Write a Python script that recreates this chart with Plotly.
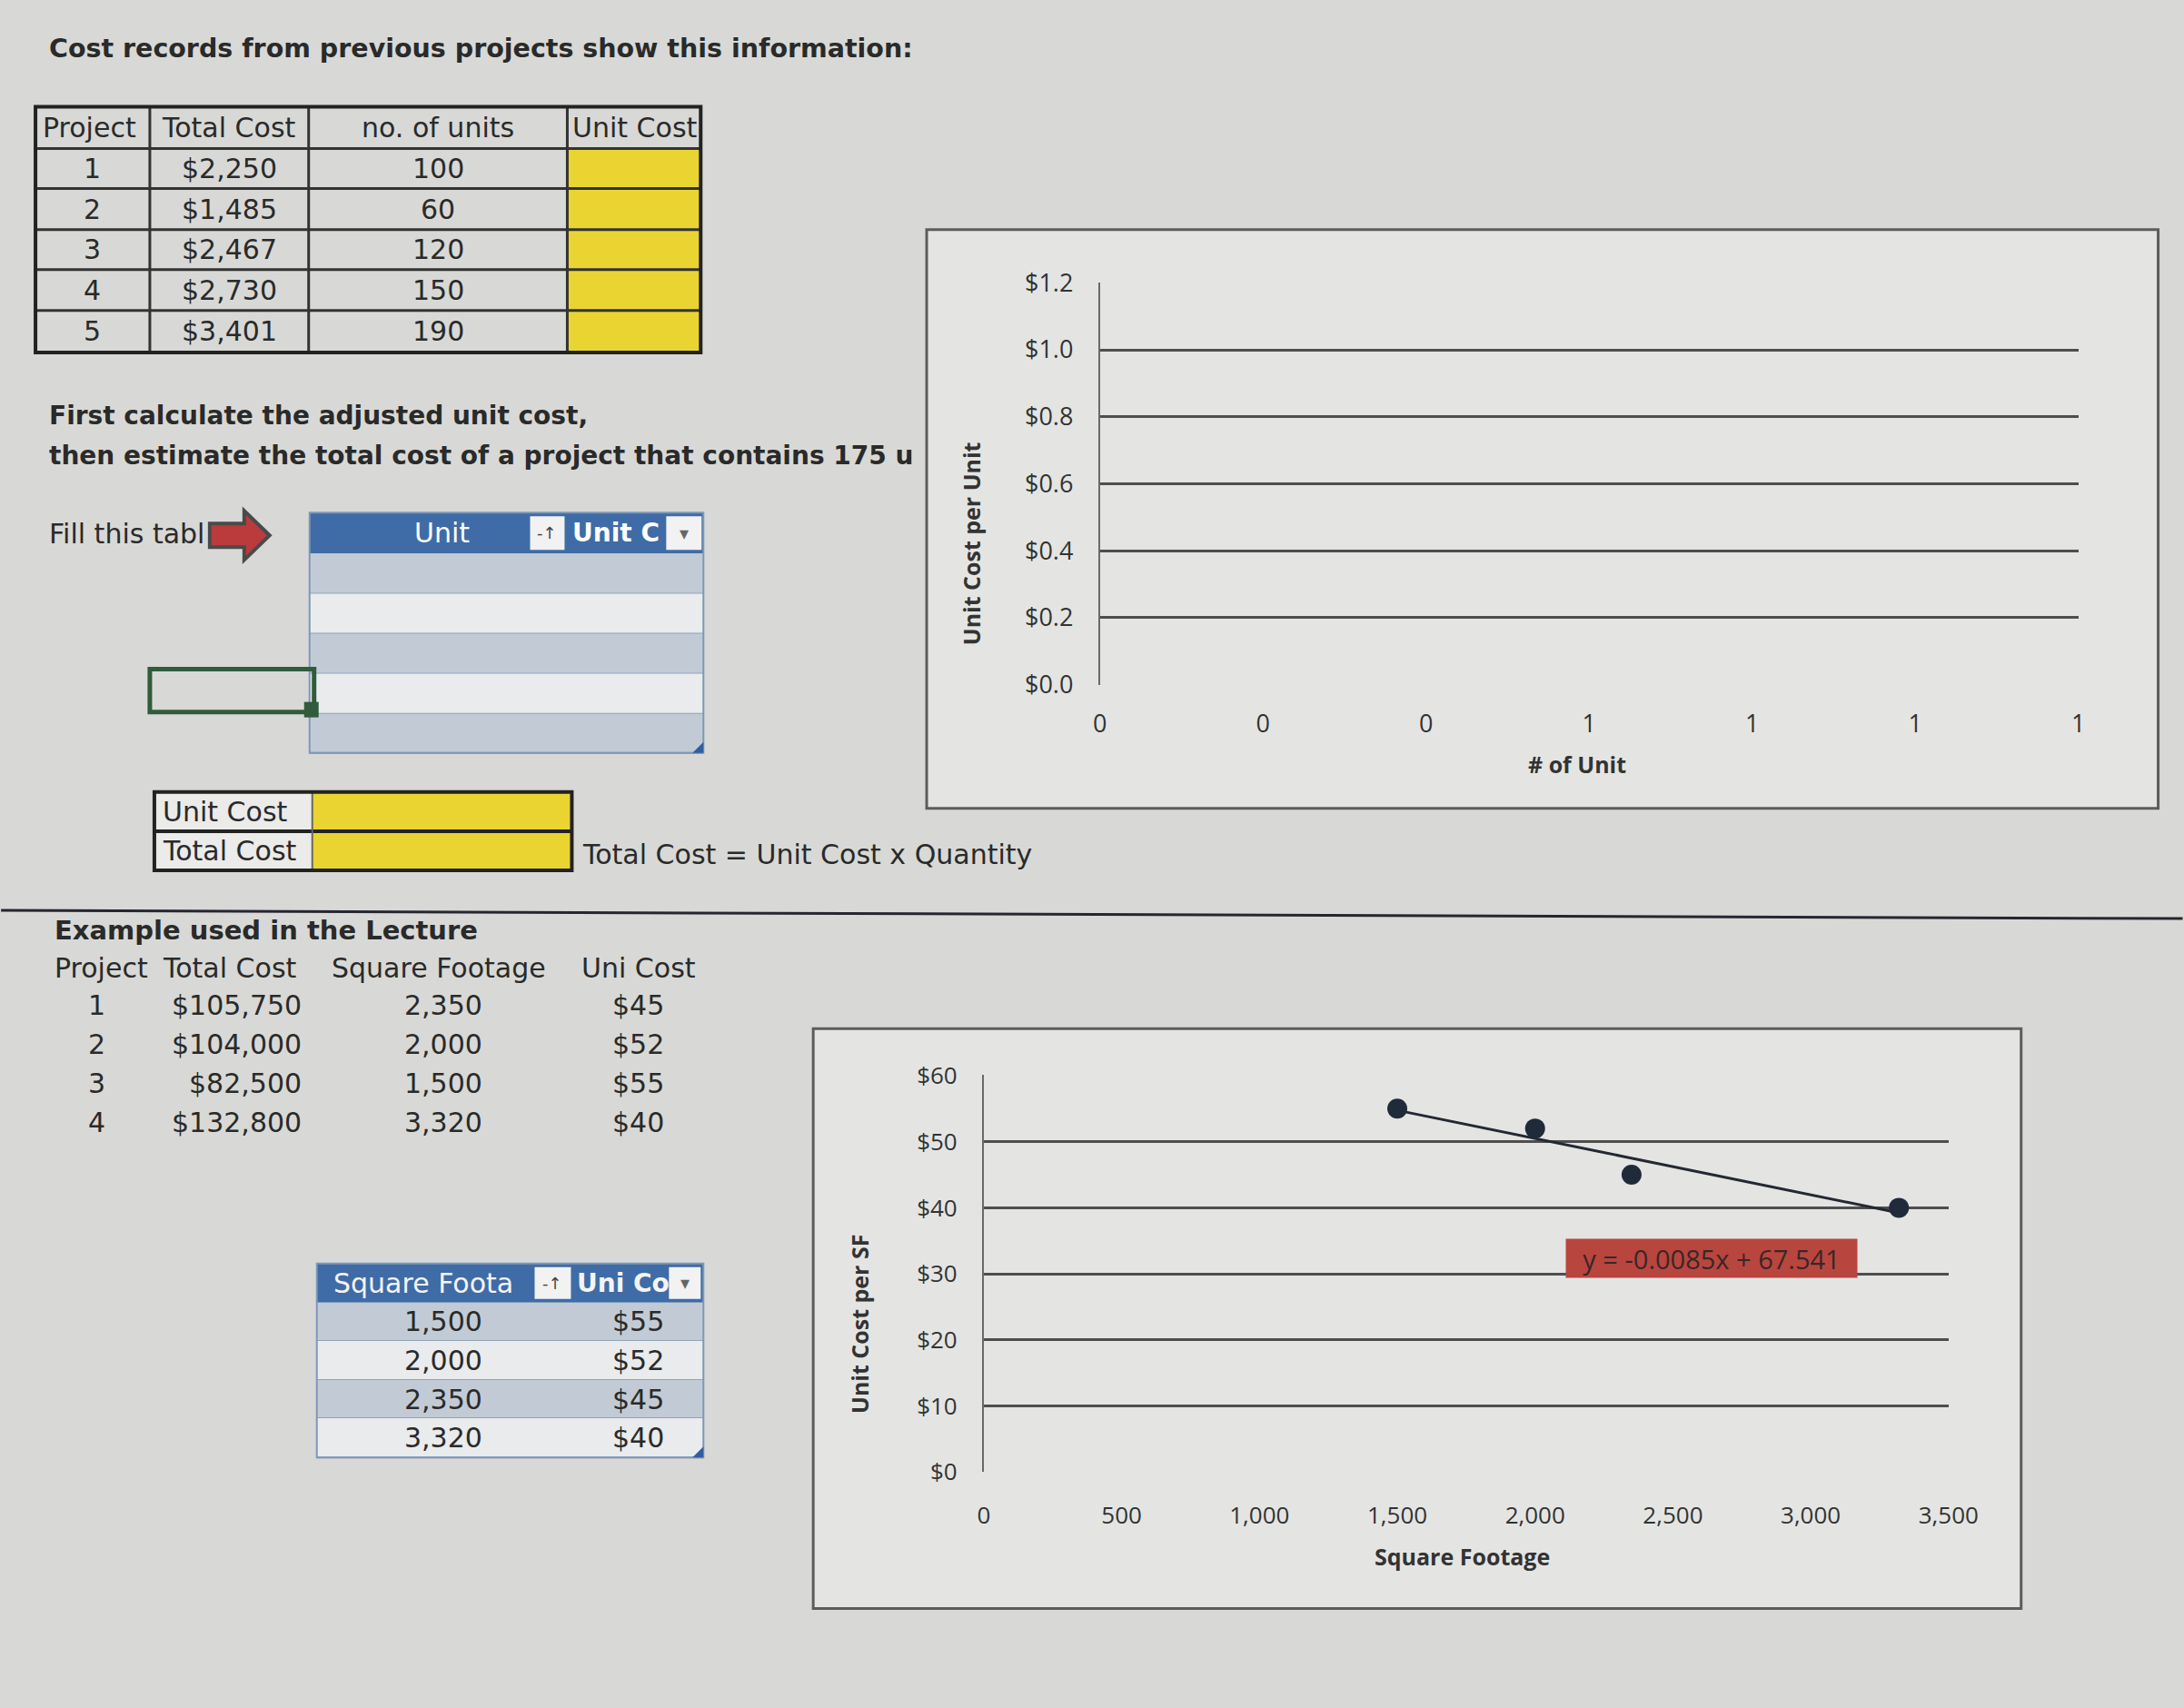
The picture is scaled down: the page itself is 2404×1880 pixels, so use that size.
import numpy as np
import plotly.graph_objects as go

W, H = 2404, 1880

# ---------------- data ----------------
proj_ids = [1, 2, 3, 4, 5]
proj_total_cost = [2250, 1485, 2467, 2730, 3401]
proj_units = [100, 60, 120, 150, 190]
table1_headers = ["Project", "Total Cost", "no. of units", "Unit Cost"]

lec_ids = [1, 2, 3, 4]
lec_total_cost = [105750, 104000, 82500, 132800]
lec_sqft = [2350, 2000, 1500, 3320]
lec_unit_cost = [45, 52, 55, 40]
lec_headers = ["Project", "Total Cost", "Square Footage", "Uni Cost"]

fill_headers = ["Unit", "Unit C"]
sorted_headers = ["Square Foota", "Uni Co"]
summary_labels = ["Unit Cost", "Total Cost"]

title_text = "Cost records from previous projects show this information:"
instr_lines = ["First calculate the adjusted unit cost,",
               "then estimate the total cost of a project that contains 175 u"]
fill_text = "Fill this tabl"
formula_text = "Total Cost = Unit Cost x Quantity"
lecture_title = "Example used in the Lecture"

chart1_ytitle, chart1_xtitle = "Unit Cost per Unit", "# of Unit"
chart2_ytitle, chart2_xtitle = "Unit Cost per SF", "Square Footage"

# ---------------- style ----------------
PAGE_BG = "#d8d9d6"
FRAME_FILL = "#e4e5e3"
FRAME_LINE = "#5c5c5c"
TXT = "#2a2a2a"
YELLOW = "#ead431"
BLUE = "#3f6ca6"
BAND = "#c2cbd5"
WROW = "#e9ebed"
GRID = "#4e4e4e"
CELL_FONT = "DejaVu Sans"
CHART_FONT = "Open Sans"

# placement calibration (page pixel -> layout pixel)
SX, AX = 0.984, 6.9
SY, AY = 0.979, 19.8


def X(p):
    return ((p - AX) / SX) / W


def Y(p):
    return 1 - ((p - AY) / SY) / H


shapes = []
annos = []


def rect(x0, y0, x1, y1, fill=None, lc=None, lw=0):
    shapes.append(dict(type="rect", xref="paper", yref="paper",
                       x0=X(x0), x1=X(x1), y0=Y(y1), y1=Y(y0),
                       fillcolor=fill if fill else "rgba(0,0,0,0)",
                       line=dict(color=lc if lc else "rgba(0,0,0,0)", width=lw),
                       layer="below"))


def line(x0, y0, x1, y1, c, w):
    shapes.append(dict(type="line", xref="paper", yref="paper",
                       x0=X(x0), x1=X(x1), y0=Y(y0), y1=Y(y1),
                       line=dict(color=c, width=w), layer="below"))


def text(x, y, s, size=30, bold=False, anchor="left", color=TXT, font=CELL_FONT):
    annos.append(dict(xref="paper", yref="paper", x=X(x), y=Y(y),
                      text=f"<b>{s}</b>" if bold else s, showarrow=False,
                      xanchor=anchor, yanchor="middle",
                      font=dict(family=font, size=size, color=color)))


# ---------------- top text & table 1 ----------------
text(51, 54, title_text, size=28.5, bold=True)

cols1 = [38, 164, 339, 624, 771]
rows1 = [118, 164, 208, 253, 297, 342, 388]
for i in range(len(proj_ids)):
    rect(cols1[3], rows1[i + 1], cols1[4], rows1[i + 2], fill=YELLOW)
for cx in cols1[1:-1]:
    line(cx, rows1[0], cx, rows1[-1], "#333", 3)
for ry in rows1[1:-1]:
    line(cols1[0], ry, cols1[4], ry, "#333", 3)
rect(cols1[0], rows1[0], cols1[4], rows1[-1], lc="#222", lw=4)

hx = [(cols1[0] + 6, "left"), ((cols1[1] + cols1[2]) / 2, "center"),
      ((cols1[2] + cols1[3]) / 2, "center"), (cols1[3] + 4, "left")]
for (x, a), h in zip(hx, table1_headers):
    text(x, (rows1[0] + rows1[1]) / 2, h, anchor=a)
for i, (p, tc, u) in enumerate(zip(proj_ids, proj_total_cost, proj_units)):
    yc = (rows1[i + 1] + rows1[i + 2]) / 2
    text((cols1[0] + cols1[1]) / 2, yc, str(p), anchor="center")
    text((cols1[1] + cols1[2]) / 2, yc, f"${tc:,}", anchor="center")
    text((cols1[2] + cols1[3]) / 2, yc, f"{u}", anchor="center")

# ---------------- instructions ----------------
text(51, 457, instr_lines[0], size=28, bold=True)
text(51, 501, instr_lines[1], size=28, bold=True)
text(51, 587, fill_text, size=30)

# arrow
ax0, ax1, ax2 = 230, 268, 296
path = (f"M {X(ax0)},{Y(576)} L {X(ax1)},{Y(576)} L {X(ax1)},{Y(562)} "
        f"L {X(ax2)},{Y(589)} L {X(ax1)},{Y(616)} L {X(ax1)},{Y(602)} "
        f"L {X(ax0)},{Y(602)} Z")
shapes.append(dict(type="path", xref="paper", yref="paper", path=path,
                   fillcolor="#bb3b3d", line=dict(color="#4a4a4a", width=4),
                   layer="below"))


# ---------------- excel-style tables ----------------
def excel_table(x0, x1, ys, btn1, btn2):
    rect(x0, ys[0], x1, ys[1], fill=BLUE)
    for i in range(len(ys) - 2):
        fill = BAND if i % 2 == 0 else WROW
        rect(x0, ys[i + 1], x1, ys[i + 2], fill=fill)
        line(x0, ys[i + 2], x1, ys[i + 2], "#8ea3bb", 2)
    rect(x0, ys[0], x1, ys[-1], lc="#7d98b8", lw=2)
    hy = (ys[0] + ys[1]) / 2
    rect(btn1[0], ys[0] + 4, btn1[1], ys[1] - 4, fill="#f2f2f2")
    text((btn1[0] + btn1[1]) / 2, hy, "-↑", size=18, anchor="center", color="#444")
    rect(btn2[0], ys[0] + 4, btn2[1], ys[1] - 4, fill="#f2f2f2")
    text((btn2[0] + btn2[1]) / 2, hy, "▾", size=20, anchor="center", color="#666")
    shapes.append(dict(type="path", xref="paper", yref="paper",
                       path=f"M {X(x1)},{Y(ys[-1] - 12)} L {X(x1)},{Y(ys[-1])} L {X(x1 - 12)},{Y(ys[-1])} Z",
                       fillcolor="#2f5f9f", line=dict(width=0), layer="below"))
    return hy


ys2 = [564, 609, 653, 697, 741, 785, 828]
hy = excel_table(340, 774, ys2, (583, 621), (733, 772))
text(486, hy, fill_headers[0], anchor="center", color="#ffffff")
text(628, hy, fill_headers[1], anchor="left", color="#ffffff", bold=True, size=28)

# selected cell
rect(164, 736, 345, 783, lc="#2f5c3c", lw=5)
rect(334, 772, 350, 789, fill="#2f5c3c")

# summary table
sx = [169, 343, 629]
sy = [871, 914, 957]
rect(sx[0], sy[0], sx[1], sy[2], fill="#ebebea")
rect(sx[1], sy[0], sx[2], sy[2], fill=YELLOW)
line(sx[0], sy[1], sx[2], sy[1], "#222", 4)
line(sx[1], sy[0], sx[1], sy[2], "#666", 2)
rect(sx[0], sy[0], sx[2], sy[2], lc="#222", lw=4)
for i, lab in enumerate(summary_labels):
    text(sx[0] + 7, (sy[i] + sy[i + 1]) / 2, lab)
text(639, 940, formula_text)

# separator
line(0, 1001, W, 1010, "#262630", 3)

# ---------------- lecture example ----------------
text(57, 1023, lecture_title, size=29, bold=True)
for x, h in zip([57, 176, 362, 638], lec_headers):
    text(x, 1064, h)
for i, (p, tc, sf, uc) in enumerate(zip(lec_ids, lec_total_cost, lec_sqft, lec_unit_cost)):
    yc = 1105 + i * 43
    text(117, yc, str(p), anchor="right")
    text(333, yc, f"${tc:,}", anchor="right")
    text(532, yc, f"{sf:,}", anchor="right")
    text(733, yc, f"${uc}", anchor="right")

order = np.argsort(lec_sqft)
sorted_sqft = [lec_sqft[k] for k in order]
sorted_uc = [lec_unit_cost[k] for k in order]
ys3 = [1389, 1432, 1474, 1517, 1559, 1602]
hy3 = excel_table(348, 774, ys3, (588, 628), (736, 771))
text(364, hy3, sorted_headers[0], color="#f4f4f4")
text(633, hy3, sorted_headers[1], color="#f4f4f4", bold=True, size=28)
for i, (sf, uc) in enumerate(zip(sorted_sqft, sorted_uc)):
    yc = (ys3[i + 1] + ys3[i + 2]) / 2
    text(532, yc, f"{sf:,}", anchor="right")
    text(733, yc, f"${uc}", anchor="right")

# ---------------- chart frames ----------------
rect(1020, 253, 2377, 889, fill=FRAME_FILL, lc=FRAME_LINE, lw=3)
rect(895, 1131, 2226, 1768, fill=FRAME_FILL, lc=FRAME_LINE, lw=3)

title_font = dict(family=CHART_FONT, size=25, color="#333")
annos.append(dict(xref="paper", yref="paper", x=X(1069), y=Y(598), text=f"<b>{chart1_ytitle}</b>",
                  textangle=-90, showarrow=False, xanchor="center", yanchor="middle", font=title_font))
annos.append(dict(xref="paper", yref="paper", x=X(1737), y=Y(840), text=f"<b>{chart1_xtitle}</b>",
                  showarrow=False, xanchor="center", yanchor="middle", font=title_font))
annos.append(dict(xref="paper", yref="paper", x=X(946), y=Y(1456), text=f"<b>{chart2_ytitle}</b>",
                  textangle=-90, showarrow=False, xanchor="center", yanchor="middle", font=title_font))
annos.append(dict(xref="paper", yref="paper", x=X(1610), y=Y(1711), text=f"<b>{chart2_xtitle}</b>",
                  showarrow=False, xanchor="center", yanchor="middle", font=title_font))

# ---------------- traces ----------------
fig = go.Figure()
fig.add_trace(go.Scatter(x=[], y=[], xaxis="x", yaxis="y", showlegend=False))

m, b = np.polyfit(lec_sqft, lec_unit_cost, 1)
tx = np.array([min(lec_sqft), max(lec_sqft)])
fig.add_trace(go.Scatter(x=tx, y=m * tx + b, mode="lines", xaxis="x2", yaxis="y2",
                         line=dict(color="#232833", width=3), showlegend=False))
fig.add_trace(go.Scatter(x=lec_sqft, y=lec_unit_cost, mode="markers", xaxis="x2", yaxis="y2",
                         marker=dict(color="#1f2b3b", size=22), showlegend=False))

annos.append(dict(xref="x2", yref="y2", x=2642, y=32.3,
                  text=f"y = {m:.4f}x + {b:.3f}", showarrow=False,
                  xanchor="center", yanchor="middle", bgcolor="#b8463f",
                  width=318, height=40,
                  font=dict(family=CHART_FONT, size=29, color="#3a2626")))

tickfont1 = dict(family=CHART_FONT, size=27, color="#333")
tickfont2 = dict(family=CHART_FONT, size=26, color="#333")

fig.update_layout(
    width=W, height=H, margin=dict(l=0, r=0, t=0, b=0),
    paper_bgcolor=PAGE_BG, plot_bgcolor="rgba(0,0,0,0)",
    showlegend=False, shapes=shapes, annotations=annos,
    xaxis=dict(domain=[X(1211), X(2289)], range=[0, 1.2], tick0=0, dtick=0.2,
               tickformat=".0f", showgrid=False, zeroline=False, showline=False,
               ticks="", tickfont=tickfont1, ticklabelstandoff=24, anchor="y", fixedrange=True),
    yaxis=dict(domain=[Y(753), Y(311)], range=[0, 1.2015], tick0=0, dtick=0.2,
               tickformat=".1f", tickprefix="$", showgrid=True, gridcolor=GRID, gridwidth=3,
               zeroline=False, showline=True, linecolor="#6a6a6a", linewidth=2,
               ticks="", tickfont=tickfont1, ticklabelstandoff=22, anchor="x", fixedrange=True),
    xaxis2=dict(domain=[X(1083), X(2146)], range=[0, 3500], tick0=0, dtick=500,
                tickformat=",d", showgrid=False, zeroline=False, showline=False,
                ticks="", tickfont=tickfont2, ticklabelstandoff=30, anchor="y2", fixedrange=True),
    yaxis2=dict(domain=[Y(1618), Y(1182)], range=[0, 60.08], tick0=0, dtick=10,
                tickprefix="$", showgrid=True, gridcolor=GRID, gridwidth=3,
                zeroline=False, showline=True, linecolor="#6a6a6a", linewidth=2,
                ticks="", tickfont=tickfont2, ticklabelstandoff=22, anchor="x2", fixedrange=True),
)

fig.write_html("out.html", config={"displayModeBar": False},
               post_script="document.body.style.margin='0px';document.body.style.overflow='hidden';")
